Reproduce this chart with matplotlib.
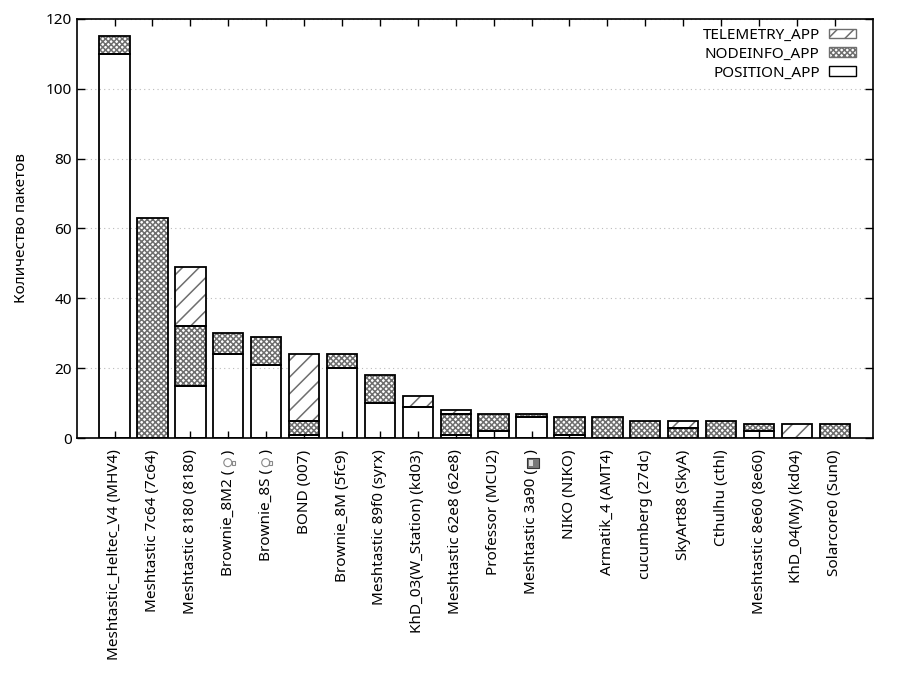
import matplotlib
matplotlib.use("Agg")
import matplotlib.pyplot as plt
import matplotlib.patches as mpatches
import numpy as np

plt.rcParams['font.family'] = ['Noto Sans', 'DejaVu Sans']
plt.rcParams['hatch.linewidth'] = 1.1

# Данные (значков 💡 и 📟 нет ни в одном шрифте — рисуются фигурами)
ICON = "\u2003"
nodes = [
    "Meshtastic_Heltec_V4 (MHV4)", "Meshtastic 7c64 (7c64)", "Meshtastic 8180 (8180)",
    "Brownie_8M2 (" + ICON + ")", "Brownie_8S (" + ICON + ")", "BOND (007)", "Brownie_8M (5fc9)",
    "Meshtastic 89f0 (syrx)", "KhD_03(W_Station) (kd03)", "Meshtastic 62e8 (62e8)",
    "Professor (MCU2)", "Meshtastic 3a90 (" + ICON + ")", "NIKO (NIKO)", "Armatik_4 (AMT4)",
    "cucumberg (27dc)", "SkyArt88 (SkyA)", "Cthulhu (cthl)", "Meshtastic 8e60 (8e60)",
    "KhD_04(My) (kd04)", "Solarcore0 (Sun0)",
]
icons = {3: "bulb", 4: "bulb", 11: "pager"}
position_app  = [110, 0, 15, 24, 21, 1, 20, 10, 9, 1, 2, 6, 1, 0, 0, 0, 0, 2, 0, 0]
nodeinfo_app  = [5, 63, 17, 6, 8, 4, 4, 8, 0, 6, 5, 1, 5, 6, 5, 3, 5, 2, 0, 4]
telemetry_app = [0, 0, 17, 0, 0, 19, 0, 0, 3, 1, 0, 0, 0, 0, 0, 2, 0, 0, 4, 0]

x = np.arange(len(nodes))
pos = np.array(position_app)
nod = np.array(nodeinfo_app)
tel = np.array(telemetry_app)
w = 0.8
hcol = "#6e6e6e"

fig = plt.figure(figsize=(9, 7), dpi=100)
ax = fig.add_axes([0.0852, 0.3739, 0.8845, 0.5994])

series = [
    ("POSITION_APP", pos, np.zeros(len(x)), None),
    ("NODEINFO_APP", nod, pos, "xxxxxx"),
    ("TELEMETRY_APP", tel, pos + nod, "//"),
]
handles = []
for name, vals, bottom, hatch in series:
    m = vals > 0
    # штриховка серым, контур чёрным
    if hatch:
        ax.bar(x[m], vals[m], w, bottom=bottom[m], color="white", hatch=hatch,
               edgecolor=hcol, linewidth=0, zorder=2)
    ax.bar(x[m], vals[m], w, bottom=bottom[m], fill=False,
           edgecolor="black", linewidth=1.3, zorder=3)
    h = plt.Rectangle((0, 0), 1, 1, facecolor="white", hatch=hatch,
                      edgecolor=hcol if hatch else "black", linewidth=1.0)
    handles.append((h, name))

ax.set_xlim(-1, len(nodes))
ax.set_ylim(0, 120)
ax.set_yticks(np.arange(0, 121, 20))
ax.set_xticks(x)
ax.set_xticklabels(nodes, rotation=90, fontsize=11)
ax.tick_params(axis="y", labelsize=11)
ax.tick_params(direction="in", top=True, right=True, length=6, width=1)
ax.tick_params(axis="x", length=5, pad=8)
ax.grid(axis="y", color="#bbbbbb", linestyle=(0, (1, 3)), linewidth=0.8, zorder=0)
ax.set_axisbelow(True)
for s in ax.spines.values():
    s.set_linewidth(1.2)
ax.set_ylabel("Количество пакетов", fontsize=11, labelpad=12)

leg_h = [h for h, _ in handles][::-1]
leg_l = [n for _, n in handles][::-1]
ax.legend(leg_h, leg_l, loc="upper right", frameon=False, markerfirst=False,
          fontsize=11, handlelength=1.75, handleheight=0.6, labelspacing=0.25,
          borderaxespad=0.2, handletextpad=0.6, bbox_to_anchor=(0.99, 1.0))

# значки внутри подписей
fig.canvas.draw()
r = fig.canvas.get_renderer()

def text_len(s):
    t = fig.text(0, 0, s, fontsize=11)
    wd = t.get_window_extent(r).width
    t.remove()
    return wd

for i, kind in icons.items():
    lab = ax.get_xticklabels()[i]
    bb = lab.get_window_extent(r)
    cy = bb.y1 - text_len(")") - text_len(ICON) / 2 - 1
    cx = (bb.x0 + bb.x1) / 2 + 1
    if kind == "bulb":
        parts = [
            mpatches.Circle((cx - 1.5, cy), 4.0, fill=False, ec="#888888", lw=0.8),
            mpatches.Rectangle((cx + 2.2, cy - 2), 3, 4, fill=False, ec="#888888", lw=0.8),
        ]
    else:
        parts = [
            mpatches.Rectangle((cx - 6, cy - 5), 12, 10, fc="#777777", ec="#333333", lw=0.8),
            mpatches.Rectangle((cx - 4, cy - 3), 4, 6, fc="#dddddd", ec="none"),
        ]
    for p in parts:
        p.set_transform(None)
        fig.add_artist(p)

fig.savefig("out.png", dpi=100)
